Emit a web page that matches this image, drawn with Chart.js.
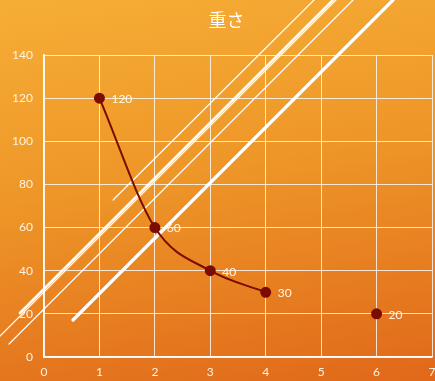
<!DOCTYPE html>
<html>
<head>
<meta charset="utf-8">
<script src="https://cdn.jsdelivr.net/npm/chart.js@4"></script>
<style>
  html, body { margin: 0; padding: 0; }
  #wrap {
    width: 435px;
    height: 381px;
    background: linear-gradient(170deg, #f6ae36 0%, #ee9628 45%, #e0681a 100%);
  }
</style>
</head>
<body>
<div id="wrap"><canvas id="weightChart"></canvas></div>
<script>
const xValues = [1, 2, 3, 4, 5, 6];
const weights = [120, 60, 40, 30, null, 20];
const xTicks = [0, 1, 2, 3, 4, 5, 6, 7];
const yTicks = [0, 20, 40, 60, 80, 100, 120, 140];
const chartTitle = "重さ";

const tickFont = { family: "Lato, 'DejaVu Sans', sans-serif", size: 12 };

// background streaks, decoration only (pixel positions on the canvas)
const streaks = [
  { from: [113, 200], to: [314, 0], w: 1.2 },
  { from: [20, 313], to: [333, 0], w: 2.6 },
  { from: [0, 336], to: [336, 0], w: 1.2 },
  { from: [9, 344], to: [353, 0], w: 1.2 },
  { from: [73, 320], to: [393, 0], w: 3.2 }
];

const streakPlugin = {
  id: "streaks",
  beforeDatasetsDraw(chart) {
    const ctx = chart.ctx;
    ctx.save();
    ctx.strokeStyle = "#ffffff";
    ctx.lineCap = "round";
    streaks.forEach(s => {
      ctx.lineWidth = s.w;
      ctx.beginPath();
      ctx.moveTo(s.from[0], s.from[1]);
      ctx.lineTo(s.to[0], s.to[1]);
      ctx.stroke();
    });
    ctx.restore();
  }
};

const titlePlugin = {
  id: "offsetTitle",
  afterDraw(chart) {
    const ctx = chart.ctx;
    ctx.save();
    ctx.fillStyle = "#ffffff";
    ctx.font = "18px 'Noto Sans CJK JP', sans-serif";
    ctx.textAlign = "center";
    ctx.textBaseline = "middle";
    ctx.fillText(chartTitle, chart.width / 2 + 9, 20);
    ctx.restore();
  }
};

const valueLabelPlugin = {
  id: "valueLabels",
  afterDatasetsDraw(chart) {
    const ctx = chart.ctx;
    const meta = chart.getDatasetMeta(0);
    ctx.save();
    ctx.fillStyle = "#fff6e8";
    ctx.font = "12px Lato, 'DejaVu Sans', sans-serif";
    ctx.textAlign = "left";
    ctx.textBaseline = "middle";
    meta.data.forEach((pt, i) => {
      if (weights[i] == null) return;
      ctx.fillText(String(weights[i]), pt.x + 12, pt.y + 1);
    });
    ctx.restore();
  }
};

const ctx = document.getElementById("weightChart").getContext("2d");
new Chart(ctx, {
  type: "line",
  data: {
    datasets: [{
      label: chartTitle,
      data: xValues.map((x, i) => ({ x: x, y: weights[i] })),
      borderColor: "#7a0c02",
      backgroundColor: "#7a0c02",
      borderWidth: 2,
      pointRadius: 4.5,
      pointHoverRadius: 4.5,
      cubicInterpolationMode: "monotone",
      spanGaps: false,
      fill: false
    }]
  },
  options: {
    responsive: true,
    maintainAspectRatio: false,
    animation: false,
    layout: { autoPadding: false, padding: { left: 0, right: 3, top: 55, bottom: 0 } },
    plugins: {
      legend: { display: false },
      tooltip: { enabled: false },
      title: { display: false }
    },
    scales: {
      x: {
        type: "linear",
        min: 0,
        max: 7,
        afterBuildTicks: s => { s.ticks = xTicks.map(v => ({ value: v })); },
        afterFit: s => { s.height = 24; s.paddingLeft = 0; s.paddingRight = 0; },
        ticks: { color: "#fff3e0", font: tickFont, padding: 8 },
        grid: { color: "rgba(255,255,255,0.8)", drawTicks: false },
        border: { color: "#ffffff", width: 1.5 }
      },
      y: {
        min: 0,
        max: 140,
        afterBuildTicks: s => { s.ticks = yTicks.map(v => ({ value: v })); },
        afterFit: s => { s.width = 44; s.paddingTop = 0; s.paddingBottom = 0; },
        ticks: { color: "#fff3e0", font: tickFont, padding: 11 },
        grid: { color: "rgba(255,255,255,0.8)", drawTicks: false },
        border: { color: "#ffffff", width: 1.5 }
      }
    }
  },
  plugins: [streakPlugin, valueLabelPlugin, titlePlugin]
});
</script>
</body>
</html>
